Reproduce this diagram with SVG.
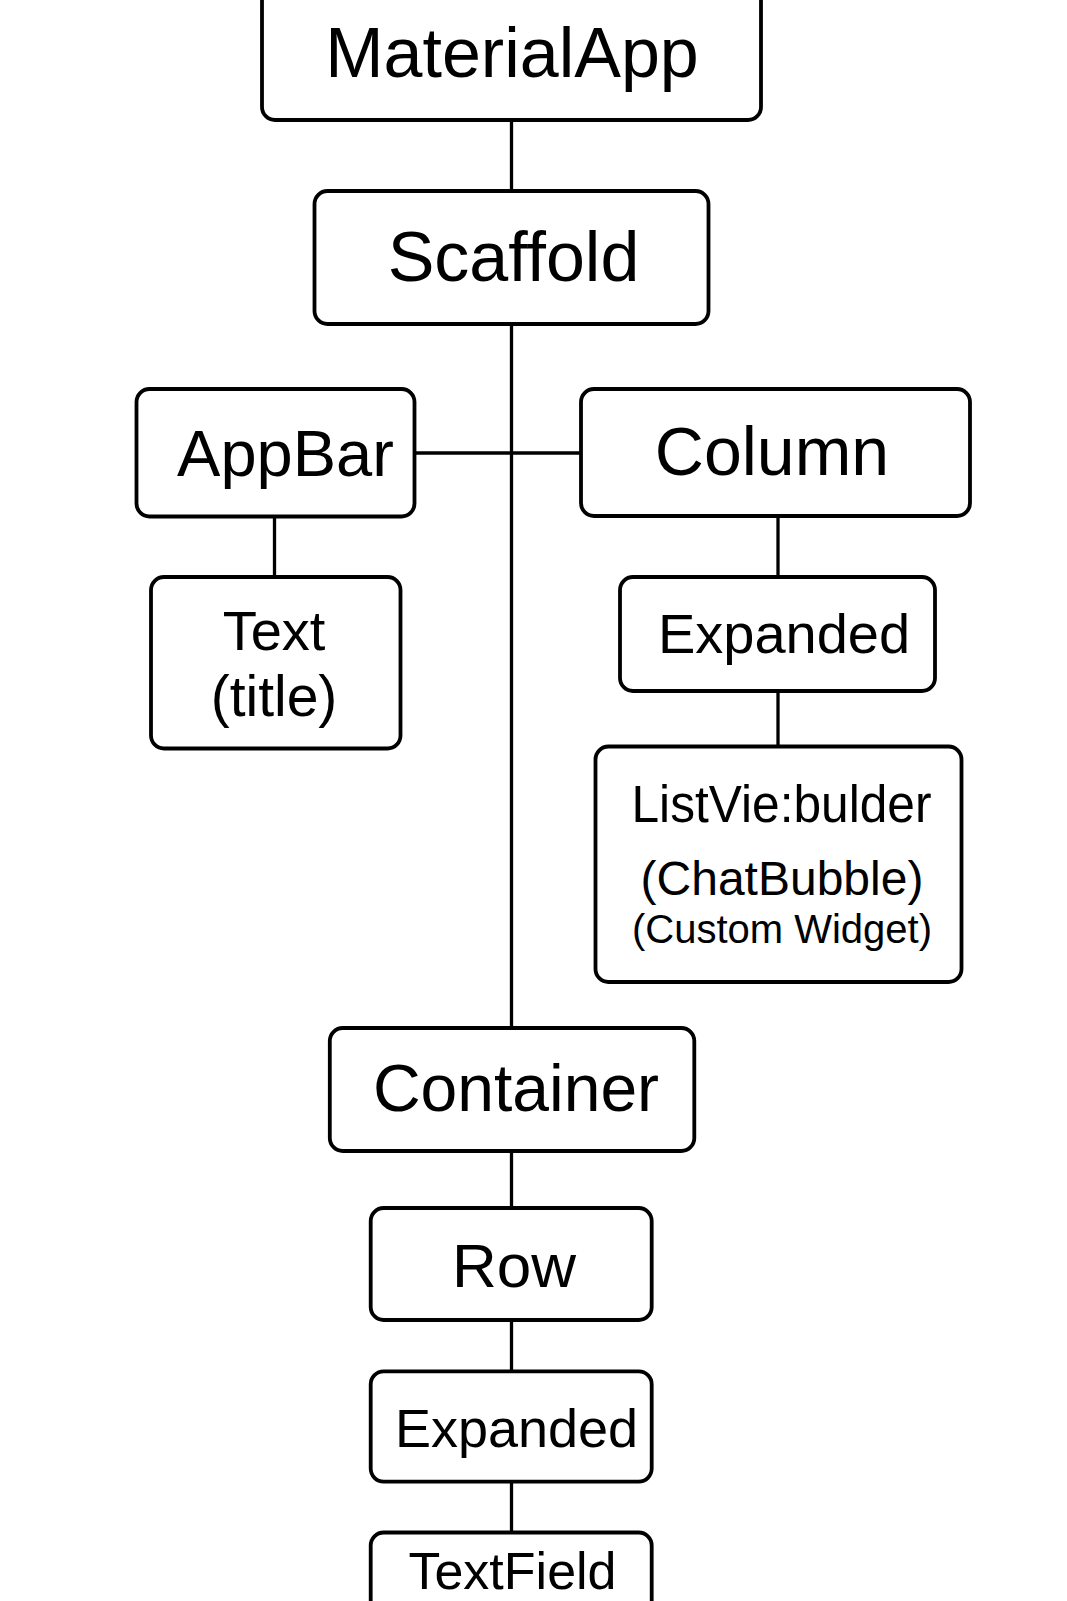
<svg xmlns="http://www.w3.org/2000/svg" width="1067" height="1601" viewBox="0 0 1067 1601">
<style>
.box{fill:#fff;stroke:#000;stroke-width:3.8}
.lbl{font-family:"Liberation Sans",Arial,Helvetica,sans-serif;fill:#000;text-anchor:middle}
.ln{stroke:#000;stroke-width:3.3;fill:none}
</style>
<rect x="0" y="0" width="1067" height="1601" fill="#fff"/>
<g id="connectors">
<line class="ln" x1="511.5" y1="120" x2="511.5" y2="191"/>
<line class="ln" x1="511.5" y1="324" x2="511.5" y2="1028"/>
<line class="ln" x1="414" y1="453" x2="581" y2="453"/>
<line class="ln" x1="274.5" y1="516" x2="274.5" y2="577"/>
<line class="ln" x1="778" y1="516" x2="778" y2="577"/>
<line class="ln" x1="778" y1="691" x2="778" y2="746.5"/>
<line class="ln" x1="511.5" y1="1151" x2="511.5" y2="1208"/>
<line class="ln" x1="511.5" y1="1320" x2="511.5" y2="1371"/>
<line class="ln" x1="511.5" y1="1481.5" x2="511.5" y2="1532.5"/>
</g>
<g id="materialapp">
<rect class="box" x="262" y="-12" width="499" height="132" rx="13"/>
<text class="lbl" x="512" y="77" font-size="70">MaterialApp</text>
</g>
<g id="scaffold">
<rect class="box" x="314.5" y="191" width="394" height="133" rx="13"/>
<text class="lbl" x="513.5" y="281" font-size="70">Scaffold</text>
</g>
<g id="appbar">
<rect class="box" x="136.5" y="389" width="278" height="127.5" rx="13"/>
<text class="lbl" x="285.5" y="476" font-size="65">AppBar</text>
</g>
<g id="column">
<rect class="box" x="581" y="389" width="389" height="127" rx="13"/>
<text class="lbl" x="772" y="475" font-size="68">Column</text>
</g>
<g id="text-title">
<rect class="box" x="151" y="577" width="249.5" height="171.5" rx="13"/>
<text class="lbl" x="274" y="650" font-size="56">Text</text>
<text class="lbl" x="274" y="716" font-size="57">(title)</text>
</g>
<g id="expanded-column">
<rect class="box" x="620" y="577" width="315" height="114" rx="13"/>
<text class="lbl" x="784" y="653" font-size="56">Expanded</text>
</g>
<g id="listview">
<rect class="box" x="595.5" y="746.5" width="366" height="235.5" rx="13"/>
<text class="lbl" x="781.5" y="822" font-size="51" textLength="300" lengthAdjust="spacingAndGlyphs">ListVie:bulder</text>
<text class="lbl" x="782" y="895" font-size="48">(ChatBubble)</text>
<text class="lbl" x="782" y="943" font-size="40">(Custom Widget)</text>
</g>
<g id="container">
<rect class="box" x="329.8" y="1028" width="364.5" height="123" rx="13"/>
<text class="lbl" x="516" y="1111" font-size="66">Container</text>
</g>
<g id="row">
<rect class="box" x="370.7" y="1208" width="281" height="112" rx="13"/>
<text class="lbl" x="514" y="1287" font-size="62">Row</text>
</g>
<g id="expanded-row">
<rect class="box" x="370.7" y="1371.3" width="281" height="110.3" rx="13"/>
<text class="lbl" x="516.5" y="1447" font-size="54">Expanded</text>
</g>
<g id="textfield">
<rect class="box" x="370.7" y="1532.5" width="281" height="100" rx="13"/>
<text class="lbl" x="512.5" y="1589" font-size="52">TextField</text>
</g>
</svg>
